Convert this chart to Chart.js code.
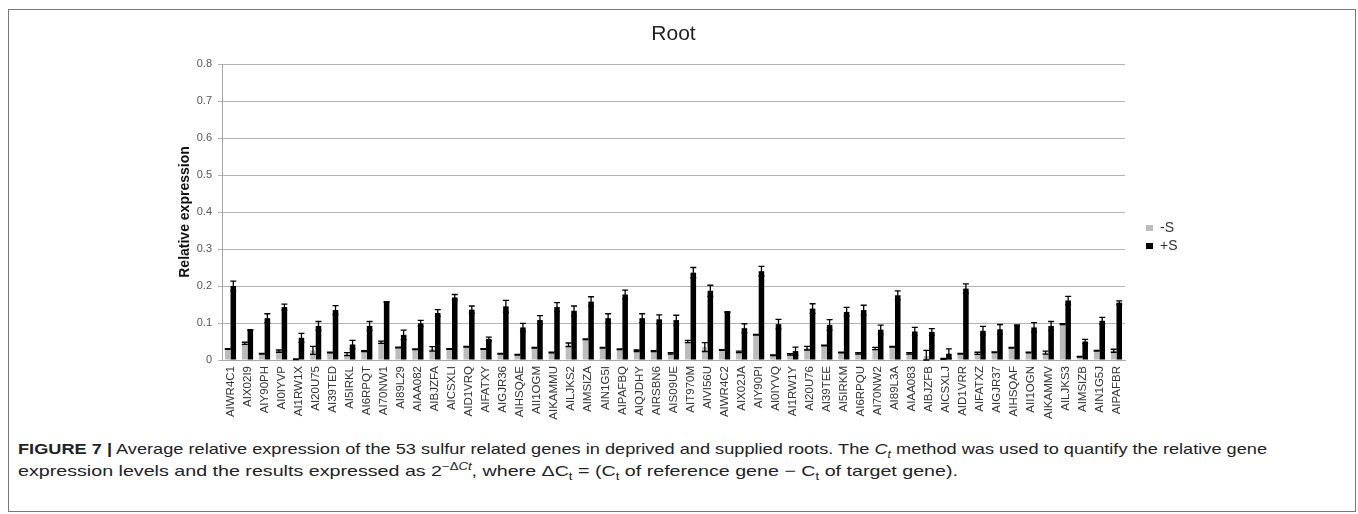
<!DOCTYPE html>
<html><head><meta charset="utf-8">
<script src="https://cdn.jsdelivr.net/npm/chart.js@4.4.0/dist/chart.umd.min.js"></script>
<style>
html,body{margin:0;padding:0;background:#fff;width:1358px;height:514px;overflow:hidden;}
#frame{position:absolute;left:8px;top:9px;width:1348px;height:503px;border:1px solid #777;box-sizing:border-box;}
#wrap{position:absolute;left:8px;top:9px;width:1347px;height:411px;}
.cap{position:absolute;left:18px;white-space:nowrap;font-family:"Liberation Sans Narrow","Liberation Sans",Arial,sans-serif;font-size:15px;color:#222;transform-origin:0 50%;line-height:18px;}
.cap sub,.cap sup{font-size:10px;line-height:0;}
</style></head>
<body>
<div id="frame"></div>
<div id="wrap"><canvas id="c" width="1347" height="411"></canvas></div>
<div class="cap" id="cap1" style="top:440px"><b>FIGURE 7 |</b> Average relative expression of the 53 sulfur related genes in deprived and supplied roots. The <i>C<sub>t</sub></i> method was used to quantify the relative gene</div>
<div class="cap" id="cap2" style="top:462px">expression levels and the results expressed as 2<sup>−Δ<i>Ct</i></sup>, where ΔC<sub>t</sub> = (C<sub>t</sub> of reference gene − C<sub>t</sub> of target gene).</div>
<script>
const genes = ["AIWR4C1","AIX02I9","AIY90PH","AI0IYVP","AI1RW1X","AI20U75","AI39TED","AI5IRKL","AI6RPQT","AI70NW1",
"AI89L29","AIAA082","AIBJZFA","AICSXLI","AID1VRQ","AIFATXY","AIGJR36","AIHSQAE","AII1OGM","AIKAMMU",
"AILJKS2","AIMSIZA","AIN1G5I","AIPAFBQ","AIQJDHY","AIRSBN6","AIS09UE","AIT970M","AIVI56U","AIWR4C2",
"AIX02JA","AIY90PI","AI0IYVQ","AI1RW1Y","AI20U76","AI39TEE","AI5IRKM","AI6RPQU","AI70NW2","AI89L3A",
"AIAA083","AIBJZFB","AICSXLJ","AID1VRR","AIFATXZ","AIGJR37","AIHSQAF","AII1OGN","AIKAMMV","AILJKS3",
"AIMSIZB","AIN1G5J","AIPAFBR"];
const minusS = [0.030,0.045,0.017,0.024,0.002,0.026,0.020,0.016,0.024,0.048,
0.034,0.029,0.030,0.030,0.036,0.030,0.017,0.014,0.033,0.020,
0.041,0.056,0.033,0.029,0.025,0.024,0.018,0.050,0.035,0.027,
0.022,0.068,0.013,0.015,0.032,0.039,0.020,0.018,0.031,0.036,
0.018,0.010,0.003,0.017,0.018,0.021,0.033,0.020,0.020,0.097,
0.009,0.025,0.025];
const minusSErr = [0.001,0.003,0.001,0.003,0.001,0.011,0.001,0.004,0.001,0.003,
0.001,0.001,0.006,0.001,0.001,0.001,0.001,0.001,0.001,0.001,
0.005,0.001,0.001,0.001,0.002,0.001,0.002,0.003,0.012,0.001,
0.002,0.001,0.001,0.002,0.005,0.001,0.001,0.002,0.003,0.001,
0.002,0.016,0.001,0.001,0.003,0.001,0.001,0.001,0.004,0.001,
0.001,0.001,0.004];
const plusS = [0.200,0.081,0.113,0.143,0.060,0.092,0.135,0.042,0.092,0.157,
0.068,0.099,0.127,0.169,0.136,0.057,0.145,0.088,0.108,0.143,
0.133,0.158,0.113,0.177,0.113,0.110,0.108,0.236,0.187,0.130,
0.086,0.240,0.097,0.024,0.139,0.095,0.130,0.135,0.082,0.175,
0.077,0.076,0.017,0.193,0.079,0.083,0.094,0.088,0.092,0.161,
0.050,0.106,0.155];
const plusSErr = [0.013,0.001,0.012,0.008,0.012,0.012,0.012,0.011,0.012,0.001,
0.013,0.008,0.009,0.008,0.010,0.005,0.016,0.011,0.012,0.012,
0.013,0.013,0.012,0.012,0.012,0.012,0.013,0.014,0.015,0.001,
0.012,0.013,0.013,0.011,0.013,0.014,0.012,0.013,0.012,0.012,
0.011,0.009,0.013,0.013,0.012,0.013,0.001,0.013,0.012,0.011,
0.006,0.009,0.005];
const seriesNames = ["-S","+S"];
const yTicks = {min:0, max:0.8, step:0.1};

Chart.defaults.font.family = "'Liberation Sans', Arial, sans-serif";

const errorBars = {
  id:'errorBars',
  afterDatasetsDraw(chart){
    const ctx = chart.ctx, ys = chart.scales.y;
    const errs = [minusSErr, plusSErr];
    ctx.save();
    ctx.strokeStyle = '#000';
    ctx.lineWidth = 1.3;
    chart.data.datasets.forEach((ds,i)=>{
      const meta = chart.getDatasetMeta(i);
      meta.data.forEach((bar,j)=>{
        const v = ds.data[j], e = errs[i][j];
        const t = ys.getPixelForValue(v+e), b = ys.getPixelForValue(Math.max(0,v-e));
        const x = bar.x, h = 3;
        ctx.beginPath();
        ctx.moveTo(x,t); ctx.lineTo(x,b);
        ctx.moveTo(x-h,t); ctx.lineTo(x+h,t);
        ctx.moveTo(x-h,b); ctx.lineTo(x+h,b);
        ctx.stroke();
      });
    });
    ctx.restore();
  }
};

new Chart(document.getElementById('c'), {
  type:'bar',
  data:{
    labels: genes,
    datasets:[
      {label:seriesNames[0], data:minusS, backgroundColor:'#bcbcbc', borderWidth:0, categoryPercentage:0.65, barPercentage:1.0},
      {label:seriesNames[1], data:plusS, backgroundColor:'#000000', borderWidth:0, categoryPercentage:0.65, barPercentage:1.0}
    ]
  },
  options:{
    responsive:false,
    animation:false,
    layout:{padding:{left:165, top:9, right:171, bottom:0}},
    plugins:{
      title:{display:true, text:'Root', fullSize:false, color:'#222', font:{size:21, weight:'normal'}, padding:{top:4, bottom:16.8}},
      legend:{position:'right', fullSize:false, maxWidth:42,
        title:{display:true, text:'', font:{size:40, lineHeight:1.25}, padding:0},
        labels:{boxWidth:7, boxHeight:6, padding:4, color:'#333', font:{size:14}}},
      tooltip:{enabled:false}
    },
    scales:{
      x:{
        grid:{display:false, drawTicks:false},
        border:{display:true, color:'#a8a8a8', width:1},
        ticks:{autoSkip:false, minRotation:90, maxRotation:90, padding:6, color:'#333', font:{size:11.5}},
        afterFit:(a)=>{a.height = 60;}
      },
      y:{
        min:yTicks.min, max:yTicks.max,
        ticks:{stepSize:yTicks.step, color:'#555', font:{size:11}, padding:6},
        grid:{color:'#b4b4b4', lineWidth:1, tickLength:4},
        border:{display:true, color:'#a8a8a8'},
        title:{display:true, text:'Relative expression', color:'#111', font:{size:14, weight:'bold'}, padding:{top:4,bottom:4}},
        afterFit:(a)=>{a.width = 49;}
      },
      yPad:{
        type:'linear', position:'right', display:true,
        grid:{display:false, drawTicks:false}, border:{display:false},
        ticks:{display:false}, title:{display:false},
        afterFit:(a)=>{a.width = 17;}
      }
    }
  },
  plugins:[errorBars]
});

function fit(id, target){
  const el = document.getElementById(id);
  const w = el.getBoundingClientRect().width;
  el.style.transform = 'scaleX(' + (target / w) + ')';
}
fit('cap1', 1249);
fit('cap2', 940);
</script>
</body></html>
